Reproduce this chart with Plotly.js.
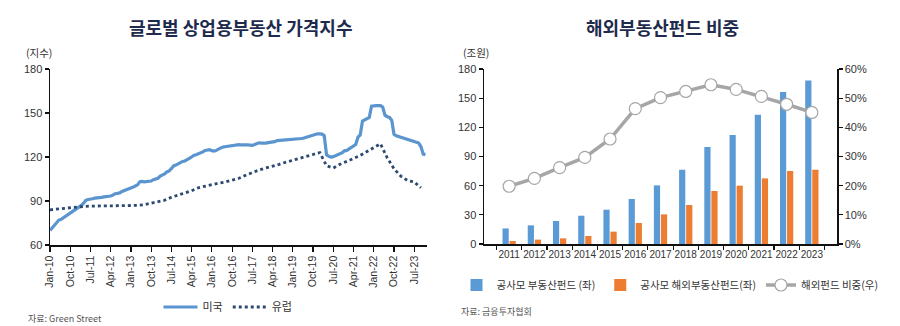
<!DOCTYPE html>
<html><head><meta charset="utf-8">
<script src="https://cdn.plot.ly/plotly-3.0.1.min.js"></script>
<style>html,body{margin:0;padding:0;background:#fff}#chart{width:900px;height:326px}</style>
</head><body><div id="chart"></div>
<script>
// ---- Left chart: 글로벌 상업용부동산 가격지수 (monthly from Jan-2010) ----
const usStart = [2010, 1];
const usIndex = [
 70,72,73.5,75.5,77,77.5,78.5,79.5,81,82,83,84,
 85,86,87,88.5,90.5,91,91,91.5,92,92,92.3,92.5,
 92.8,93,93,93.4,94,95,95.2,95.5,96.5,97,98,98,
 98.5,99.5,100.2,101,103.2,103.4,103,103.2,103.5,103.6,104.5,105,
 105.5,107,107.5,108.5,109.8,110.5,112,113.9,114.5,115.5,116.5,117,
 117.3,118,119,120,121.1,121.5,122,123,123.5,124.5,124.8,125,
 124.3,124,124.5,125.5,126.2,126.8,127,127.2,127.5,127.7,128.2,128.2,
 128.4,128.2,128,128.2,128.3,128.2,127.9,128.5,129.2,129.7,129.5,129.3,
 129.5,129.8,130,130.2,130.5,131.2,131.3,131.4,131.5,131.7,132,132,
 132,132.2,132.3,132.4,132.6,133,133.5,134,134.3,134.8,135.3,135.8,
 135.8,135.6,134.5,121.5,120.5,120,120.2,121,121.5,122,123,124.2,
 124.5,125.5,126.5,127.8,128.5,133.5,135,144.5,145.5,146.5,147,154.6,
 155,155,155,155,154,148.5,147.5,147,145,135.5,134.5,134,
 133.5,133,132.3,131.5,131.3,130.8,130.5,130,129.5,127,122,121.6
];
// Europe: quarterly (Jan, Apr, Jul, Oct) from Jan-2010
const euStart = [2010, 1];
const euIndex = [
 84,84.5,85,85.5, 86,86.3,86.5,86.6, 86.6,86.6,86.6,86.6, 86.7,87,87.5,88.5,
 89.5,90.5,92.5,94, 95.7,97,99,100.2, 101.4,102.2,103,104, 105.5,107.5,109.5,111.2,
 112.5,114,115,116.5, 117.8,119,120,121.2, 123,114,112.5,115, 116.8,119,121,123.5,
 126,129,119.5,112, 107,104,103,99
];
const leftNames = ['미국', '유럽'];

// ---- Right chart: 해외부동산펀드 비중 ----
const years = ['2011','2012','2013','2014','2015','2016','2017','2018','2019','2020','2021','2022','2023'];
const fundTotal = [16,19.2,23.7,29.1,35.3,46.3,60.3,76.4,99.8,112.1,133,156.3,168.3];
const fundOverseas = [3.1,4.5,5.8,8.2,12.7,21.6,30.5,40.1,54.5,60,67.5,75.1,76.4];
const overseasShare = [0.198,0.225,0.262,0.297,0.360,0.464,0.502,0.523,0.546,0.530,0.506,0.479,0.451];
const rightNames = ['공사모 부동산펀드 (좌)', '공사모 해외부동산펀드(좌)', '해외펀드 비중(우)'];

function monthDates(start, n, step) {
  const out = [];
  for (let i = 0; i < n; i++) {
    const t = (start[0] * 12 + start[1] - 1) + i * step;
    const y = Math.floor(t / 12), m = t % 12 + 1;
    out.push(y + '-' + String(m).padStart(2, '0') + '-01');
  }
  return out;
}

const FONT = 'Liberation Sans, Arial, Noto Sans CJK KR, sans-serif';
const KFONT = 'Noto Sans CJK KR, sans-serif';

const traces = [
  {x: monthDates(usStart, usIndex.length, 1), y: usIndex, name: leftNames[0], type: 'scatter', mode: 'lines',
   line: {color: '#5b95cf', width: 3.2}, xaxis: 'x', yaxis: 'y', legend: 'legend'},
  {x: monthDates(euStart, euIndex.length, 3), y: euIndex, name: leftNames[1], type: 'scatter', mode: 'lines',
   line: {color: '#2c4a70', width: 2.8, dash: '3px,3px'}, xaxis: 'x', yaxis: 'y', legend: 'legend'},
  {x: years, y: fundTotal, name: rightNames[0], type: 'bar', marker: {color: '#5b9bd5'},
   xaxis: 'x2', yaxis: 'y2', legend: 'legend2'},
  {x: years, y: fundOverseas, name: rightNames[1], type: 'bar', marker: {color: '#ed7d31'},
   xaxis: 'x2', yaxis: 'y2', legend: 'legend2'},
  {x: years, y: overseasShare, name: rightNames[2], type: 'scatter', mode: 'lines+markers',
   line: {color: '#a6a6a6', width: 3.5},
   marker: {size: 12, color: '#ffffff', line: {color: '#a6a6a6', width: 1.2}},
   xaxis: 'x2', yaxis: 'y3', legend: 'legend2'}
];

const axisCommon = {showgrid: false, zeroline: false, showline: true, linecolor: '#111', linewidth: 1.5,
  ticks: 'outside', ticklen: 4, tickwidth: 1.2, tickcolor: '#111',
  tickfont: {family: FONT, size: 11, color: '#333'}};

const layout = {
  width: 900, height: 326,
  margin: {l: 0, r: 0, t: 0, b: 0},
  paper_bgcolor: '#fff', plot_bgcolor: '#fff',
  showlegend: true,
  barmode: 'group', bargap: 0.44, bargroupgap: 0.12,
  xaxis: Object.assign({}, axisCommon, {domain: [50/900, 427/900], anchor: 'y', type: 'date',
    range: ['2010-01-01', '2023-12-22'], tick0: '2010-01-01', dtick: 'M9', tickformat: '%b-%y',
    tickangle: -90, ticklen: 5, tickfont: {family: FONT, size: 10.5, color: '#333'}}),
  yaxis: Object.assign({}, axisCommon, {domain: [81/326, 257/326], anchor: 'x', range: [60, 180], dtick: 30}),
  xaxis2: Object.assign({}, axisCommon, {domain: [484/900, 837/900], anchor: 'y2', type: 'category',
    tickson: 'boundaries', ticklen: 4, tickangle: 0, tickfont: {family: FONT, size: 10, color: '#333'}}),
  yaxis2: Object.assign({}, axisCommon, {domain: [82/326, 257/326], anchor: 'x2', range: [0, 180], dtick: 30}),
  yaxis3: Object.assign({}, axisCommon, {domain: [82/326, 257/326], anchor: 'x2', overlaying: 'y2', side: 'right',
    range: [0, 0.6], dtick: 0.1, tickformat: '.0%'}),
  legend: {orientation: 'h', x: 228/900, xanchor: 'center', y: 19/326, yanchor: 'middle',
    font: {family: KFONT, size: 11, color: '#333'}, itemwidth: 34, tracegroupgap: 0, bgcolor: 'rgba(0,0,0,0)'},
  legend2: {orientation: 'h', x: 670/900, xanchor: 'center', y: 41/326, yanchor: 'middle',
    font: {family: KFONT, size: 10.5, color: '#333'}, itemwidth: 30, bgcolor: 'rgba(0,0,0,0)'},
  annotations: [
    {text: '<b>글로벌 상업용부동산 가격지수</b>', xref: 'paper', yref: 'paper', x: 240/900, y: 299/326,
     xanchor: 'center', yanchor: 'middle', showarrow: false, font: {family: KFONT, size: 18, color: '#1f2b4d'}},
    {text: '<b>해외부동산펀드 비중</b>', xref: 'paper', yref: 'paper', x: 662/900, y: 299/326,
     xanchor: 'center', yanchor: 'middle', showarrow: false, font: {family: KFONT, size: 18, color: '#1f2b4d'}},
    {text: '(지수)', xref: 'paper', yref: 'paper', x: 24/900, y: 273/326, xanchor: 'left', yanchor: 'middle',
     showarrow: false, font: {family: KFONT, size: 10.5, color: '#333'}},
    {text: '(조원)', xref: 'paper', yref: 'paper', x: 461/900, y: 273/326, xanchor: 'left', yanchor: 'middle',
     showarrow: false, font: {family: KFONT, size: 10.5, color: '#333'}},
    {text: '자료: Green Street', xref: 'paper', yref: 'paper', x: 26/900, y: 8/326, xanchor: 'left', yanchor: 'middle',
     showarrow: false, font: {family: KFONT, size: 9, color: '#555'}},
    {text: '자료: 금융투자협회', xref: 'paper', yref: 'paper', x: 459/900, y: 15/326, xanchor: 'left', yanchor: 'middle',
     showarrow: false, font: {family: KFONT, size: 9, color: '#555'}}
  ]
};

Plotly.newPlot('chart', traces, layout, {staticPlot: true, displayModeBar: false});
</script>
</body></html>
